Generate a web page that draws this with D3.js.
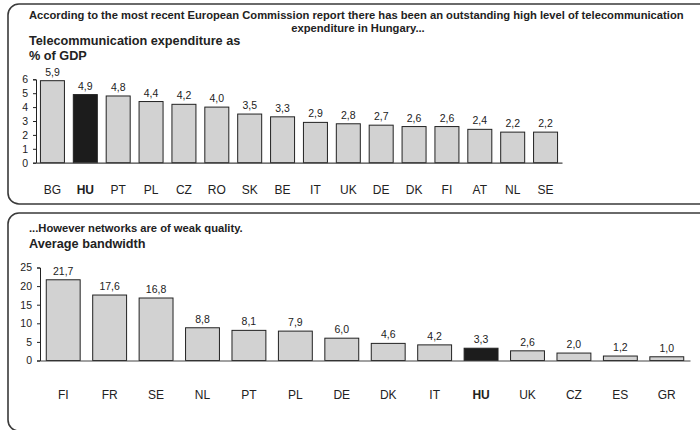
<!DOCTYPE html>
<html>
<head>
<meta charset="utf-8">
<script src="https://cdn.jsdelivr.net/npm/d3@7"></script>
<style>
  html, body { margin: 0; padding: 0; background: #fff; }
  svg { display: block; font-family: "Liberation Sans", Arial, Helvetica, sans-serif; }
</style>
</head>
<body>
<svg id="chart" width="700" height="430"></svg>
<script>
// Telecommunication expenditure as % of GDP
const spendCountries = ["BG","HU","PT","PL","CZ","RO","SK","BE","IT","UK","DE","DK","FI","AT","NL","SE"];
const spendValues = [5.9,4.9,4.8,4.4,4.2,4.0,3.5,3.3,2.9,2.8,2.7,2.6,2.6,2.4,2.2,2.2];
const spendTicks = [0,1,2,3,4,5,6];

// Average bandwidth
const bwCountries = ["FI","FR","SE","NL","PT","PL","DE","DK","IT","HU","UK","CZ","ES","GR"];
const bwValues = [21.7,17.6,16.8,8.8,8.1,7.9,6.0,4.6,4.2,3.3,2.6,2.0,1.2,1.0];
const bwTicks = [0,5,10,15,20,25];

const highlight = "HU";
const fmt = v => v.toFixed(1).replace(".", ",");

const svg = d3.select("#chart");
const ink = "#222";

// Panel frames: rounded on the left, open past the right edge
function panel(y0, y1) {
  const r = 11, x0 = 8, x1 = 720;
  const p = d3.path();
  p.moveTo(x1, y0);
  p.lineTo(x0 + r, y0);
  p.arcTo(x0, y0, x0, y0 + r, r);
  p.lineTo(x0, y1 - r);
  p.arcTo(x0, y1, x0 + r, y1, r);
  p.lineTo(x1, y1);
  svg.append("path").attr("d", p.toString())
    .attr("fill", "none").attr("stroke", "#3a3a3a").attr("stroke-width", 1.6);
}
panel(4, 204);
panel(213, 431);

function barChart(opts) {
  const { cats, vals, ticks, xRange, yRange, domainMax, labelSize, catY, valSize, tickSize } = opts;
  const x = d3.scaleBand().domain(cats).range(xRange).paddingInner(0.27).paddingOuter(0.135);
  const y = d3.scaleLinear().domain([0, domainMax]).range(yRange);
  const g = svg.append("g");

  const yAxis = g.append("g")
    .attr("transform", `translate(${xRange[0]},0)`)
    .call(d3.axisLeft(y).tickValues(ticks).tickFormat(d3.format("d"))
      .tickSize(3).tickSizeOuter(3).tickPadding(5));
  yAxis.selectAll("path, line").attr("stroke", ink).attr("stroke-width", 1);
  yAxis.selectAll("text").attr("fill", ink).attr("font-size", tickSize).attr("font-family", null);

  g.selectAll("rect.bar").data(cats).join("rect")
    .attr("class", "bar")
    .attr("x", d => x(d))
    .attr("width", x.bandwidth())
    .attr("y", (d, i) => y(vals[i]))
    .attr("height", (d, i) => y(0) - y(vals[i]))
    .attr("fill", d => d === highlight ? "#1c1c1c" : "#d2d2d2")
    .attr("stroke", ink).attr("stroke-width", 1);

  // baseline
  const xAxis = g.append("g")
    .attr("transform", `translate(0,${y(0)})`)
    .call(d3.axisBottom(x).tickSize(0).tickSizeOuter(0).tickFormat(""));
  xAxis.select(".domain").attr("stroke", "#444").attr("stroke-width", 1.2);

  g.selectAll("text.val").data(cats).join("text")
    .attr("class", "val")
    .attr("x", d => x(d) + x.bandwidth() / 2)
    .attr("y", (d, i) => y(vals[i]) - 5)
    .attr("text-anchor", "middle")
    .attr("font-size", valSize).attr("fill", ink)
    .text((d, i) => fmt(vals[i]));

  g.selectAll("text.cat").data(cats).join("text")
    .attr("class", "cat")
    .attr("x", d => x(d) + x.bandwidth() / 2)
    .attr("y", catY)
    .attr("text-anchor", "middle")
    .attr("font-size", labelSize).attr("fill", ink)
    .attr("font-weight", d => d === highlight ? "bold" : "normal")
    .text(d => d);
}

// Top panel headings
svg.append("text").attr("x", 29).attr("y", 19)
  .attr("font-size", 11.2).attr("font-weight", "bold").attr("fill", ink)
  .text("According to the most recent European Commission report there has been an outstanding high level of telecommunication");
svg.append("text").attr("x", 358).attr("y", 32).attr("text-anchor", "middle")
  .attr("font-size", 11.2).attr("font-weight", "bold").attr("fill", ink)
  .text("expenditure in Hungary...");
svg.append("text").attr("x", 29).attr("y", 45)
  .attr("font-size", 12.7).attr("font-weight", "bold").attr("fill", ink)
  .text("Telecommunication expenditure as");
svg.append("text").attr("x", 29).attr("y", 60)
  .attr("font-size", 12.7).attr("font-weight", "bold").attr("fill", ink)
  .text("% of GDP");

barChart({
  cats: spendCountries, vals: spendValues, ticks: spendTicks,
  xRange: [36, 562], yRange: [162.7, 79.3], domainMax: 6,
  labelSize: 12, catY: 194, valSize: 10.5, tickSize: 10.5
});

// Bottom panel headings
svg.append("text").attr("x", 29).attr("y", 232)
  .attr("font-size", 11.2).attr("font-weight", "bold").attr("fill", ink)
  .text("...However networks are of weak quality.");
svg.append("text").attr("x", 29).attr("y", 248)
  .attr("font-size", 12.7).attr("font-weight", "bold").attr("fill", ink)
  .text("Average bandwidth");

barChart({
  cats: bwCountries, vals: bwValues, ticks: bwTicks,
  xRange: [40, 690], yRange: [360.5, 267.5], domainMax: 25,
  labelSize: 12, catY: 399, valSize: 10.5, tickSize: 10.5
});
</script>
</body>
</html>
